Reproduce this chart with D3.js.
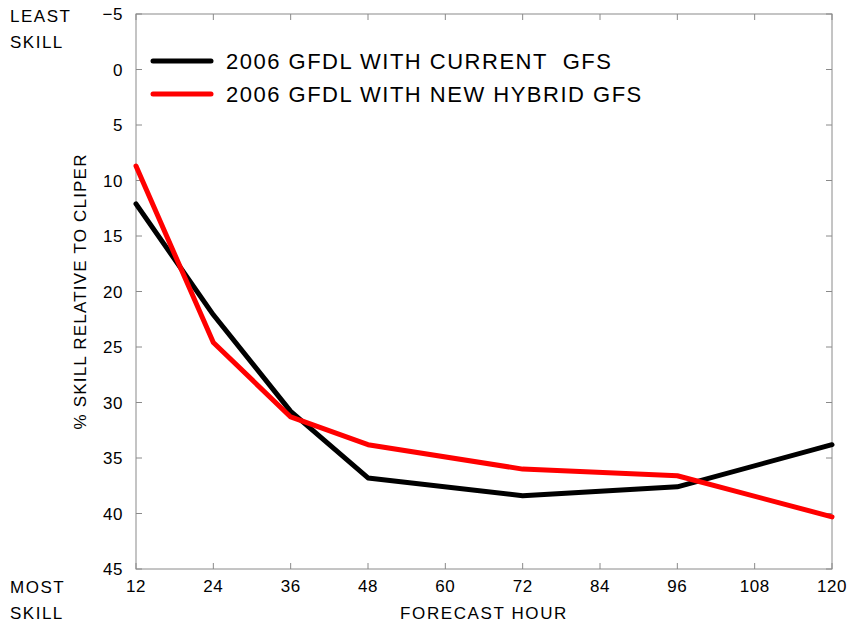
<!DOCTYPE html>
<html lang="en">
<head>
<meta charset="utf-8">
<script src="https://d3js.org/d3.v7.min.js"></script>
<title>Skill relative to CLIPER</title>
<style>
  body { margin: 0; background: #fff; }
  text { font-family: "Liberation Sans", Arial, sans-serif; fill: #000; }
</style>
</head>
<body>
<div id="chart"></div>
<script>
// forecast hours and % skill relative to CLIPER
var hours = [12, 24, 36, 48, 72, 96, 120];
var currentGfs = [12.1, 22.1, 30.8, 36.8, 38.4, 37.6, 33.8];
var hybridGfs = [8.7, 24.6, 31.3, 33.8, 36.0, 36.6, 40.3];
var xTicks = [12, 24, 36, 48, 60, 72, 84, 96, 108, 120];
var yTicks = [-5, 0, 5, 10, 15, 20, 25, 30, 35, 40, 45];
var seriesNames = ["2006 GFDL WITH CURRENT  GFS", "2006 GFDL WITH NEW HYBRID GFS"];
var seriesColors = ["#000000", "#ff0000"];

var W = 847, H = 624;
var margin = {top: 14, right: 15, bottom: 55, left: 136};
var width = W - margin.left - margin.right,
    height = H - margin.top - margin.bottom;

var svg = d3.select("#chart").append("svg")
    .attr("width", W).attr("height", H);
var g = svg.append("g")
    .attr("transform", "translate(" + margin.left + "," + margin.top + ")");

var x = d3.scaleLinear().domain([12, 120]).range([0, width]);
var y = d3.scaleLinear().domain([-5, 45]).range([0, height]);

var axisColor = "#8a8a8a";

// frame with inward ticks on all sides
g.append("rect").attr("width", width).attr("height", height)
    .attr("fill", "none").attr("stroke", axisColor).attr("stroke-width", 1);

var tickLen = 6;
g.selectAll(".xt").data(xTicks).enter().append("line")
    .attr("x1", d => x(d)).attr("x2", d => x(d))
    .attr("y1", height).attr("y2", height - tickLen)
    .attr("stroke", axisColor);
g.selectAll(".xtt").data(xTicks).enter().append("line")
    .attr("x1", d => x(d)).attr("x2", d => x(d))
    .attr("y1", 0).attr("y2", tickLen)
    .attr("stroke", axisColor);
g.selectAll(".yt").data(yTicks).enter().append("line")
    .attr("x1", 0).attr("x2", tickLen)
    .attr("y1", d => y(d)).attr("y2", d => y(d))
    .attr("stroke", axisColor);
g.selectAll(".ytr").data(yTicks).enter().append("line")
    .attr("x1", width).attr("x2", width - tickLen)
    .attr("y1", d => y(d)).attr("y2", d => y(d))
    .attr("stroke", axisColor);

// tick labels
g.selectAll(".xl").data(xTicks).enter().append("text")
    .attr("x", d => x(d)).attr("y", height + 23)
    .attr("text-anchor", "middle").attr("font-size", 17)
    .style("letter-spacing", "0.5px")
    .text(d => d);
g.selectAll(".yl").data(yTicks).enter().append("text")
    .attr("x", -13).attr("y", d => y(d) + 6)
    .attr("text-anchor", "end").attr("font-size", 17)
    .style("letter-spacing", "0.5px")
    .text(d => d3.format("d")(d).replace("-", "\u2212"));

// lines
var line = d3.line().x(d => x(d[0])).y(d => y(d[1]));
[currentGfs, hybridGfs].forEach(function(vals, i) {
    g.append("path")
        .datum(hours.map((h, j) => [h, vals[j]]))
        .attr("d", line)
        .attr("fill", "none")
        .attr("stroke", seriesColors[i])
        .attr("stroke-width", 5)
        .attr("stroke-linejoin", "round")
        .attr("stroke-linecap", "round");
});

// legend
var leg = g.append("g").attr("transform", "translate(17,47)");
seriesNames.forEach(function(name, i) {
    leg.append("line")
        .attr("x1", 0).attr("x2", 58)
        .attr("y1", i * 33).attr("y2", i * 33)
        .attr("stroke", seriesColors[i]).attr("stroke-width", 5)
        .attr("stroke-linecap", "round");
    leg.append("text")
        .attr("x", 73).attr("y", i * 33 + 8)
        .attr("font-size", 22)
        .style("letter-spacing", "1.5px")
        .style("white-space", "pre")
        .text(name);
});

// axis titles
svg.append("text")
    .attr("x", margin.left + width / 2).attr("y", 619)
    .attr("text-anchor", "middle").attr("font-size", 17)
    .style("letter-spacing", "1.6px")
    .text("FORECAST HOUR");
svg.append("text")
    .attr("transform", "translate(86," + (margin.top + height / 2) + ") rotate(-90)")
    .attr("text-anchor", "middle").attr("font-size", 17)
    .style("letter-spacing", "1.2px")
    .text("% SKILL RELATIVE TO CLIPER");

// corner annotations
[["LEAST", 22], ["SKILL", 48], ["MOST", 593], ["SKILL", 619]].forEach(function(t) {
    svg.append("text")
        .attr("x", 10).attr("y", t[1])
        .attr("font-size", 17)
        .style("letter-spacing", "1.5px")
        .text(t[0]);
});
</script>
</body>
</html>
